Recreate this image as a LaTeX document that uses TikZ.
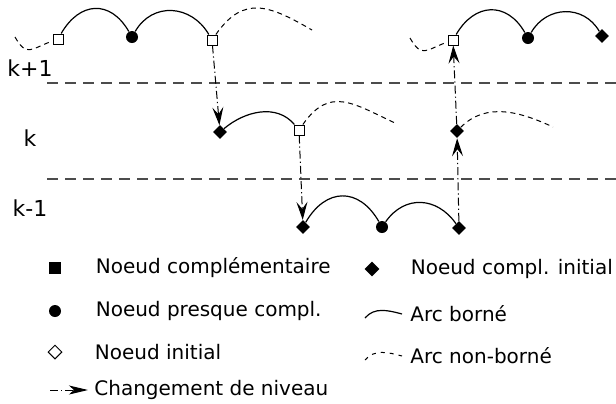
\documentclass[tikz,border=0pt]{standalone}
\usepackage{fontspec}
\setmainfont{DejaVu Sans}
\usetikzlibrary{positioning, arrows.meta, shapes.geometric}

\begin{document}
\begin{tikzpicture}[x=0.5pt, y=0.5pt,
    font=\fontsize{10}{12}\selectfont,
    sq/.style={draw, fill=white, rectangle, minimum size=5pt, inner sep=0pt,
               line width=0.5pt},
    fsq/.style={sq, fill=black},
    dot/.style={circle, fill=black, minimum size=6pt, inner sep=0pt},
    dia/.style={diamond, fill=black, minimum size=7pt, inner sep=0pt},
    odia/.style={dia, draw, fill=white, line width=0.5pt},
    arcb/.style={line width=0.6pt},
    arcnb/.style={line width=0.5pt, dash pattern=on 2.5pt off 2pt},
    lvl/.style={line width=0.8pt, draw=black!70, dash pattern=on 5.5pt off 3.5pt},
    chg/.style={line width=0.5pt, dash pattern=on 4pt off 1.5pt on 0.6pt off 1.5pt,
                -{Stealth[length=9pt, width=5.5pt, inset=3.5pt]}},
    lbl/.style={inner sep=0pt},
    niv/.style={font=\fontsize{11}{13}\selectfont}]

  \useasboundingbox (0,0) rectangle (616,-403);

  % niveaux
  \node[niv] (nk1) at (30,-68)  {k+1};
  \node[niv] (nk)  at (30,-138) {k};
  \node[niv] (nkm) at (30,-208) {k-1};
  \coordinate (l1a) at (47,-83);  \coordinate (l1b) at (616,-83);
  \coordinate (l2a) at (47,-179); \coordinate (l2b) at (616,-179);
  \draw[lvl] (l1a) -- (l1b);
  \draw[lvl] (l2a) -- (l2b);

  % niveau k+1
  \coordinate (a0) at (15,-37);
  \node[sq]  (a1) at (58,-39)  {};
  \node[dot] (a2) at (132,-37) {};
  \node[sq]  (a3) at (212,-40) {};
  \coordinate (a4) at (312,-30);
  \coordinate (b0) at (410,-38);
  \node[sq]  (b1) at (453,-40) {};
  \node[dot] (b2) at (528,-38) {};
  \node[dia] (b3) at (602,-36) {};

  % niveau k
  \node[dia] (c1) at (220,-132) {};
  \node[sq]  (c2) at (299,-130) {};
  \coordinate (c3) at (395,-123);
  \node[dia] (d1) at (457,-131) {};
  \coordinate (d2) at (553,-127);

  % niveau k-1
  \node[dia] (e1) at (303,-227) {};
  \node[dot] (e2) at (382,-227) {};
  \node[dia] (e3) at (459,-228) {};

  % arcs
  \draw[arcnb] (a0) to[out=-60, in=-160, looseness=1.6] (a1);
  \draw[arcb]  (a1) to[out=60, in=120, looseness=1.4] (a2);
  \draw[arcb]  (a2) to[out=60, in=120, looseness=1.2] (a3);
  \draw[arcnb] (a3) to[out=55, in=150, looseness=1.3] (a4);
  \draw[arcnb] (b0) to[out=-60, in=-160, looseness=1.6] (b1);
  \draw[arcb]  (b1) to[out=60, in=120, looseness=1.36] (b2);
  \draw[arcb]  (b2) to[out=60, in=120, looseness=1.17] (b3);
  \draw[arcb]  (c1) to[out=40, in=130] (c2);
  \draw[arcnb] (c2) to[out=55, in=155, looseness=1.3] (c3);
  \draw[arcnb] (d1) to[out=45, in=155] (d2);
  \draw[arcb]  (e1) to[out=60, in=120, looseness=1.4] (e2);
  \draw[arcb]  (e2) to[out=55, in=125, looseness=1.2] (e3);

  % changements de niveau
  \draw[chg] (a3) -- (c1);
  \draw[chg] (c2) -- (e1);
  \draw[chg] (e3) -- (d1);
  \draw[chg] (d1) -- (b1);

  % legende
  \node[fsq, minimum size=5.5pt] (lsq) at (55,-268) {};
  \node[lbl, right=17.25pt of lsq] (tsq) {Noeud complémentaire};
  \node[dot] (ldot) at (55,-311) {};
  \node[lbl, right=17pt of ldot] (tdot) {Noeud presque compl.};
  \node[odia, minimum size=7pt] (lodia) at (55,-352) {};
  \node[lbl, right=16pt of lodia] (todia) {Noeud initial};
  \coordinate (lc1) at (50,-390); \coordinate (lc2) at (88,-390);
  \draw[chg, -{Stealth[length=9.5pt, width=4.5pt, inset=2.5pt]}] (lc1) -- (lc2);
  \node[lbl, right=3pt of lc2] (tchg) {Changement de niveau};

  \node[dia, minimum size=7.5pt] (ldia) at (372,-269) {};
  \node[lbl, right=15.25pt of ldia] (tdia) {Noeud compl. initial};
  \coordinate (lb1) at (365,-318); \coordinate (lb2) at (402,-314);
  \draw[arcb] (lb1) to[out=50, in=165] (lb2);
  \node[lbl, right=4pt of lb2] (tarcb) {Arc borné};
  \coordinate (ln1) at (365,-360); \coordinate (ln2) at (402,-356);
  \draw[arcnb, dash pattern=on 2pt off 2.5pt] (ln1) to[out=50, in=165] (ln2);
  \node[lbl, right=4pt of ln2] (tarcnb) {Arc non-borné};
\end{tikzpicture}
\end{document}
